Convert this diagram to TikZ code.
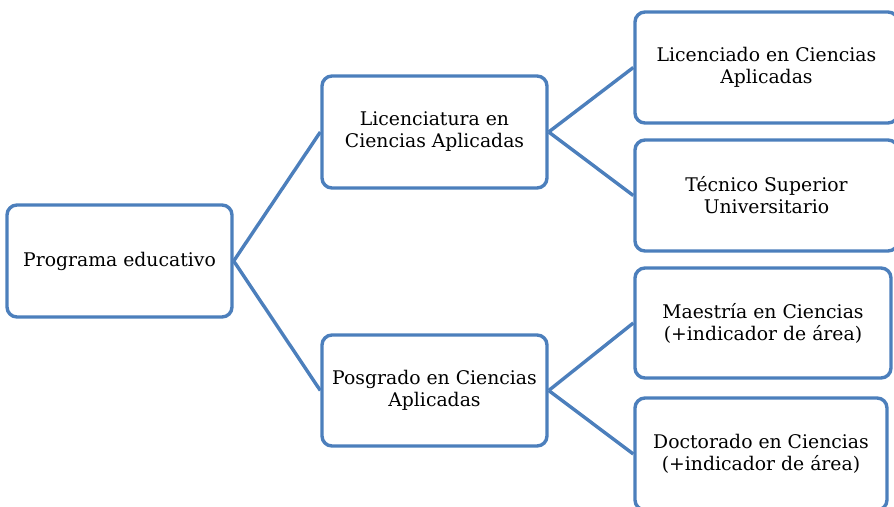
\documentclass[tikz,border=0pt]{standalone}
\usepackage{fontspec}
\setmainfont{DejaVu Serif}
\definecolor{boxblue}{RGB}{76,127,188}
\begin{document}
\begin{tikzpicture}[x=1pt,y=-1pt,
  box/.style={draw=boxblue, line width=3.4pt, rounded corners=10pt, fill=white,
    align=center, inner sep=0pt, text=black,
    font=\fontsize{18.8pt}{22pt}\selectfont},
  link/.style={draw=boxblue, line width=3.4pt}]
\useasboundingbox (0,0) rectangle (894,506);
\clip (0,0) rectangle (894,506);
\node[box, minimum width=225pt, minimum height=112pt] (prog) at (119.5,261) {Programa educativo};
\node[box, minimum width=225pt, minimum height=112pt] (lic) at (434.5,132) {Licenciatura en\\Ciencias Aplicadas};
\node[box, minimum width=225pt, minimum height=111pt] (pos) at (434.5,390.5) {Posgrado en Ciencias\\Aplicadas};
\node[box, minimum width=263pt, minimum height=111pt] (lcd) at (766.5,67.5) {Licenciado en Ciencias\\Aplicadas};
\node[box, minimum width=263pt, minimum height=111pt] (tec) at (766.5,195.5) {Técnico Superior\\Universitario};
\node[box, minimum width=256pt, minimum height=110pt] (mae) at (763,323) {Maestría en Ciencias\\(+indicador de área)};
\node[box, minimum width=252pt, minimum height=112pt] (doc) at (761,454) {Doctorado en Ciencias\\(+indicador de área)};
\draw[link] (prog.east) -- (lic.west);
\draw[link] (prog.east) -- (pos.west);
\draw[link] (lic.east) -- (lcd.west);
\draw[link] (lic.east) -- (tec.west);
\draw[link] (pos.east) -- (mae.west);
\draw[link] (pos.east) -- (doc.west);
\end{tikzpicture}
\end{document}
